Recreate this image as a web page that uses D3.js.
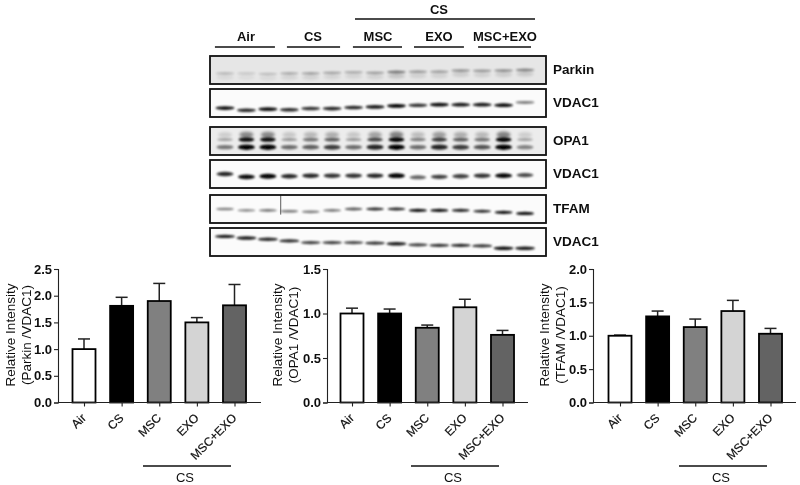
<!DOCTYPE html>
<html><head><meta charset="utf-8">
<script src="https://cdn.jsdelivr.net/npm/d3@7/dist/d3.min.js"></script>
<style>html,body{margin:0;padding:0;background:#fff}svg{display:block}text{font-family:"Liberation Sans",Arial,sans-serif;fill:#111}</style>
</head><body><svg id="c" width="800" height="485"></svg>
<script>
const categories = ["Air","CS","MSC","EXO","MSC+EXO"];
const barColors = ["#ffffff","#000000","#808080","#d4d4d4","#636363"];
const parkinMean = [1.0,1.81,1.9,1.5,1.82];
const parkinUpper = [1.19,1.97,2.23,1.59,2.21];
const opa1Mean = [1.0,1.0,0.84,1.07,0.76];
const opa1Upper = [1.06,1.05,0.87,1.16,0.81];
const tfamMean = [1.0,1.29,1.13,1.37,1.03];
const tfamUpper = [1.01,1.37,1.25,1.53,1.11];
const parkinTicks = [0,0.5,1,1.5,2,2.5];
const opa1Ticks = [0,0.5,1,1.5];
const tfamTicks = [0,0.5,1,1.5,2];

const lanes = d3.range(1,16);
const parkinInk = [.2,.14,.18,.26,.3,.28,.26,.3,.48,.32,.3,.36,.34,.38,.42];
const parkinPos = [.62,.62,.64,.62,.62,.6,.58,.6,.57,.56,.56,.52,.53,.52,.5];
const vdacAInk = [.95,.85,.95,.85,.8,.85,.85,.9,1,.8,.95,.9,.9,.95,.5];
const vdacAPos = [.68,.76,.72,.74,.7,.7,.66,.64,.6,.58,.56,.56,.56,.58,.48];
const opaUpperInk = [.3,.95,.95,.35,.5,.6,.35,.7,1,.45,.75,.6,.5,1,.3];
const opaLowerInk = [.5,1,1,.55,.6,.75,.55,.85,1,.55,.85,.75,.65,1,.45];
const vdacBInk = [.85,.95,1,.85,.85,.8,.8,.85,1,.6,.75,.75,.8,.98,.7];
const vdacBPos = [.5,.6,.58,.58,.56,.56,.56,.56,.56,.62,.6,.58,.56,.56,.54];
const tfamInk = [.5,.45,.55,.55,.5,.55,.65,.85,.85,.95,.95,.85,.85,.95,.95];
const tfamPos = [.5,.55,.55,.58,.6,.55,.5,.5,.5,.55,.55,.55,.58,.62,.66];
const vdacCInk = [.9,.9,.85,.85,.75,.75,.7,.8,.9,.75,.8,.85,.8,.95,.9];
const vdacCPos = [.3,.36,.4,.46,.52,.52,.52,.54,.56,.6,.62,.62,.64,.72,.72];
const scratchLane = 3.6;
const groupStartLane = [0.53,3.89,6.97,9.82,12.81];
const groupEndLane = [3.33,6.37,9.26,12.15,15.28];

const svg = d3.select("#c");
const defs = svg.append("defs");
const blur = (id,s)=>defs.append("filter").attr("id",id).attr("x","-30%").attr("y","-100%").attr("width","160%").attr("height","300%")
  .append("feGaussianBlur").attr("stdDeviation",s);
blur("b1",1.0); blur("b2",1.6); blur("soft",0.35);
const root = svg.append("g").attr("filter","url(#soft)");
root.append("rect").attr("width",800).attr("height",485).attr("fill","#fff");

const laneX = d3.scaleLinear().domain([1,15]).range([225,525]);

function blot(name, top, bottom, bg, draw){
  const y = d3.scaleLinear().domain([0,1]).range([top,bottom]);
  const g = root.append("g");
  g.append("rect").attr("x",210).attr("y",top).attr("width",336).attr("height",bottom-top).attr("fill",bg);
  draw(g,y);
  g.append("rect").attr("x",210).attr("y",top).attr("width",336).attr("height",bottom-top).attr("fill","none").attr("stroke","#111").attr("stroke-width",1.8);
  root.append("text").attr("x",553).attr("y",(top+bottom)/2+4).attr("font-size",13.5).attr("font-weight","bold").text(name);
}
function bands(g,y,ink,pos,w,h,f){
  g.selectAll(null).data(lanes).join("ellipse")
    .attr("cx",d=>laneX(d)).attr("cy",(d,i)=>y(pos[i]))
    .attr("rx",w/2).attr("ry",(d,i)=>h*(0.7+0.5*ink[i]))
    .attr("fill","#000").attr("opacity",(d,i)=>ink[i]).attr("filter",`url(#${f})`);
}
blot("Parkin",56,84,"#e6e6e6",(g,y)=>{
  bands(g,y,parkinInk.map(v=>v*.3),parkinPos.map(v=>v+.14),17,3.5,"b2");
  bands(g,y,parkinInk,parkinPos,19,1.6,"b1");
});
blot("VDAC1",89,117,"#fbfbfb",(g,y)=>bands(g,y,vdacAInk,vdacAPos,19,1.6,"b1"));
blot("OPA1",127,155,"#ececec",(g,y)=>{
  bands(g,y,opaUpperInk.map(v=>v*.45),opaUpperInk.map(()=>.28),14,3.5,"b2");
  bands(g,y,opaUpperInk,opaUpperInk.map(()=>.45),16,1.9,"b1");
  bands(g,y,opaLowerInk,opaLowerInk.map(()=>.72),17,2.3,"b1");
});
blot("VDAC1",160,188,"#fbfbfb",(g,y)=>bands(g,y,vdacBInk,vdacBPos,17,2,"b1"));
blot("TFAM",195,223,"#fbfbfb",(g,y)=>{
  bands(g,y,tfamInk,tfamPos,18,1.4,"b1");
  g.append("line").attr("x1",laneX(scratchLane)).attr("x2",laneX(scratchLane)).attr("y1",y(0)).attr("y2",y(.7)).attr("stroke","#333").attr("stroke-width",.8);
});
blot("VDAC1",228,256,"#fbfbfb",(g,y)=>bands(g,y,vdacCInk,vdacCPos,20,1.5,"b1"));

// lane-group headers
const headerX = [246,313,378,439,505];
categories.forEach((c,i)=>{
  root.append("line").attr("x1",laneX(groupStartLane[i])).attr("x2",laneX(groupEndLane[i])).attr("y1",47).attr("y2",47).attr("stroke","#111").attr("stroke-width",1.7);
  root.append("text").attr("x",headerX[i]).attr("y",40.5).attr("text-anchor","middle").attr("font-size",13).attr("font-weight","bold").text(c);
});
root.append("line").attr("x1",355).attr("x2",535).attr("y1",19).attr("y2",19).attr("stroke","#111").attr("stroke-width",1.7);
root.append("text").attr("x",439).attr("y",13.5).attr("text-anchor","middle").attr("font-size",13).attr("font-weight","bold").text("CS");

function chart(o){
  const y = d3.scaleLinear().domain([0,o.max]).range([402.5,269]);
  const x = d3.scalePoint().domain(categories).range([o.cx,o.cx+150.5]);
  const g = root.append("g");
  categories.forEach((c,i)=>{
    g.append("line").attr("x1",x(c)).attr("x2",x(c)).attr("y1",y(o.mean[i])).attr("y2",y(o.upper[i])).attr("stroke","#222").attr("stroke-width",1.5);
    g.append("line").attr("x1",x(c)-6).attr("x2",x(c)+6).attr("y1",y(o.upper[i])).attr("y2",y(o.upper[i])).attr("stroke","#222").attr("stroke-width",1.5);
    g.append("rect").attr("x",x(c)-11.5).attr("width",23).attr("y",y(o.mean[i])).attr("height",y(0)-y(o.mean[i]))
      .attr("fill",barColors[i]).attr("stroke","#000").attr("stroke-width",1.8);
  });
  const ax = g.append("g").attr("transform",`translate(${o.ax},0)`)
    .call(d3.axisLeft(y).tickValues(o.ticks).tickSize(4).tickPadding(2).tickFormat(d3.format(".1f")));
  ax.select(".domain").attr("stroke","#222").attr("stroke-width",1.1);
  ax.selectAll(".tick line").attr("stroke","#222").attr("stroke-width",1.1);
  ax.selectAll("text").attr("font-size",13).attr("font-weight","bold").style("font-family",'"Liberation Sans",Arial,sans-serif');
  const bx = g.append("g").attr("transform",`translate(0,${y(0)})`)
    .call(d3.axisBottom(x).tickSize(4).tickPadding(2));
  bx.select(".domain").attr("d",`M${o.ax},0H${o.end}`).attr("stroke","#222").attr("stroke-width",1.1);
  bx.selectAll(".tick line").attr("stroke","#222").attr("stroke-width",1.1);
  bx.selectAll("text").attr("font-size",12).attr("text-anchor","end").attr("dy",null)
    .attr("transform","translate(0,14) rotate(-45)").attr("y",0).attr("x",0).attr("dominant-baseline","middle")
    .attr("stroke","#111").attr("stroke-width",.2)
    .style("font-family",'"Liberation Sans",Arial,sans-serif');
  const mid = 335;
  [[o.lx1,"Relative Intensity"],[o.lx2,o.sub]].forEach(([lx,t])=>{
    g.append("text").attr("transform",`translate(${lx},${mid}) rotate(-90)`).attr("text-anchor","middle").attr("font-size",13.5).text(t);
  });
  g.append("line").attr("x1",o.cx+59).attr("x2",o.cx+147).attr("y1",466).attr("y2",466).attr("stroke","#111").attr("stroke-width",1.3);
  g.append("text").attr("x",o.cx+101).attr("y",481.5).attr("text-anchor","middle").attr("font-size",13).text("CS");
}
chart({mean:parkinMean,upper:parkinUpper,ticks:parkinTicks,max:2.5,ax:58,end:261,cx:84,lx1:15,lx2:31,sub:"(Parkin /VDAC1)"});
chart({mean:opa1Mean,upper:opa1Upper,ticks:opa1Ticks,max:1.5,ax:327,end:528,cx:352,lx1:282,lx2:298,sub:"(OPA1 /VDAC1)"});
chart({mean:tfamMean,upper:tfamUpper,ticks:tfamTicks,max:2.0,ax:593,end:796,cx:620,lx1:549,lx2:565,sub:"(TFAM /VDAC1)"});
</script></body></html>
